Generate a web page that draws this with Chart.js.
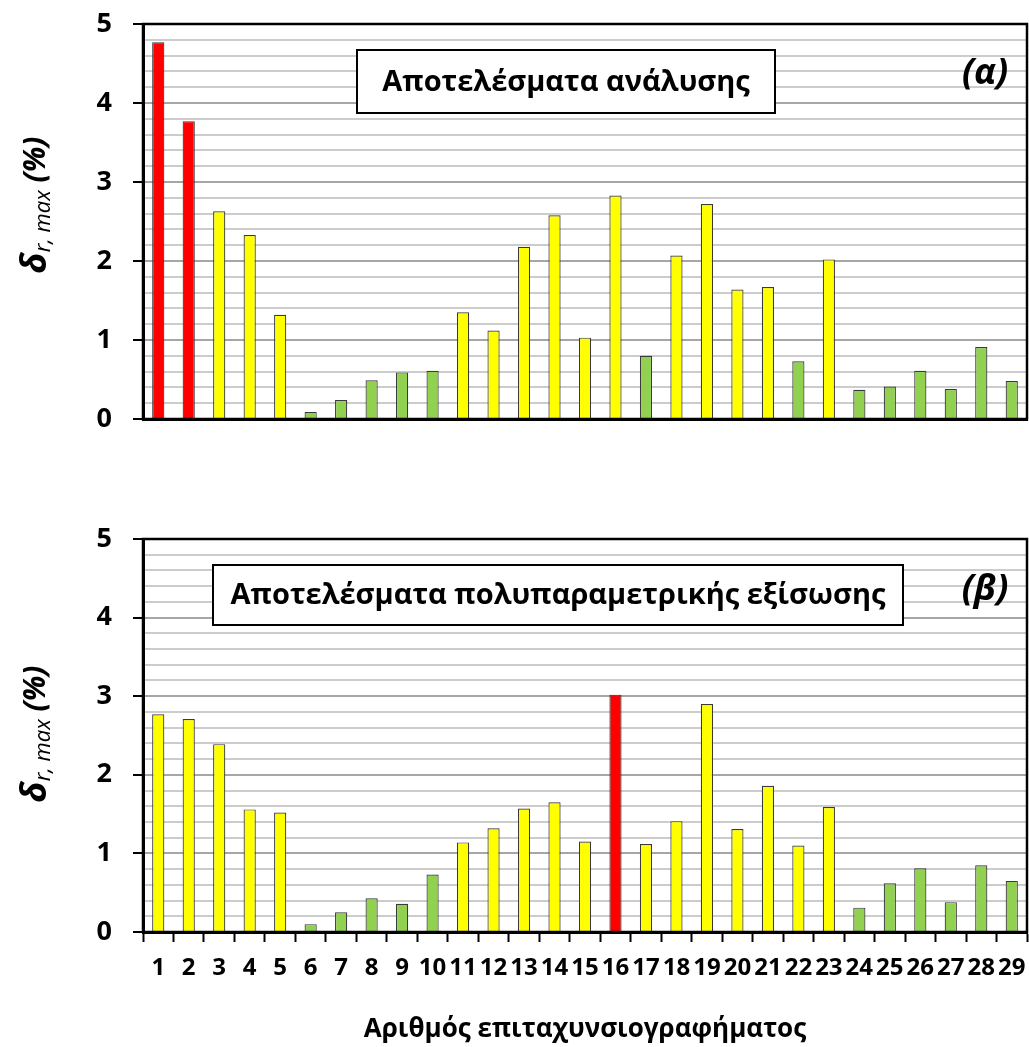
<!DOCTYPE html>
<html>
<head>
<meta charset="utf-8">
<script src="https://cdn.jsdelivr.net/npm/chart.js@4.4.1/dist/chart.umd.min.js"></script>
<style>
  html, body { margin: 0; padding: 0; background: #fff; }
  #wrap { position: relative; width: 1029px; height: 1047px; }
  .panel { position: absolute; left: 0; width: 1029px; }
  #panelA { top: 0; height: 450px; }
  #panelB { top: 480px; height: 567px; }
</style>
</head>
<body>
<div id="wrap">
  <div class="panel" id="panelA"><canvas id="chartA"></canvas></div>
  <div class="panel" id="panelB"><canvas id="chartB"></canvas></div>
</div>
<script>
const recordNumbers = [
  "1", "2", "3", "4", "5", "6", "7", "8", "9", "10",
  "11", "12", "13", "14", "15", "16", "17", "18", "19", "20",
  "21", "22", "23", "24", "25", "26", "27", "28", "29",
];
// (α) analysis results
const analysisValues = [
  4.77, 3.77, 2.63, 2.33, 1.32, 0.09, 0.24, 0.49, 0.59, 0.61,
  1.35, 1.12, 2.18, 2.58, 1.03, 2.83, 0.80, 2.07, 2.72, 1.64,
  1.67, 0.73, 2.02, 0.37, 0.41, 0.61, 0.38, 0.91, 0.48,
];
// (β) multi-parametric equation results
const equationValues = [
  2.77, 2.71, 2.39, 1.56, 1.52, 0.10, 0.25, 0.43, 0.36, 0.73,
  1.14, 1.32, 1.57, 1.65, 1.15, 3.02, 1.12, 1.41, 2.90, 1.31,
  1.86, 1.10, 1.59, 0.31, 0.62, 0.81, 0.38, 0.85, 0.65,
];
const yMin = 0;
const yMax = 5;
const yStep = 0.2;

const FONT = "'Open Sans', 'Noto Sans', sans-serif";

function barColor(ctx) {
  const v = ctx.raw;
  if (v > 3) return "#ff0000";
  if (v >= 1) return "#ffff00";
  return "#92d050";
}

function isWhole(v) {
  return Math.abs(v - Math.round(v)) < 1e-6;
}

// frame, note box, panel letter and y title
const notesPlugin = {
  id: "notes",
  afterDraw(chart, args, opts) {
    const ctx = chart.ctx;
    const a = chart.chartArea;
    ctx.save();

    ctx.strokeStyle = "#000";
    ctx.lineWidth = 2.5;
    ctx.strokeRect(a.left, a.top, a.right - a.left, a.bottom - a.top);

    // note box
    const [bx, by, bw, bh] = opts.box;
    ctx.fillStyle = "#fff";
    ctx.fillRect(bx, by, bw, bh);
    ctx.lineWidth = 2;
    ctx.strokeRect(bx, by, bw, bh);
    ctx.fillStyle = "#000";
    ctx.font = "bold " + opts.boxFont + "px " + FONT;
    ctx.textAlign = "center";
    ctx.textBaseline = "middle";
    ctx.fillText(opts.text, bx + bw / 2, by + bh / 2 + 1);

    // panel letter
    ctx.font = "italic bold 36px " + FONT;
    ctx.fillText(opts.letter, opts.letterPos[0], opts.letterPos[1]);

    // y title with subscript
    const parts = [
      { t: "δ", f: "italic bold 36px " + FONT, dy: 0 },
      { t: "r, max", f: "italic 22px " + FONT, dy: 8 },
      { t: " (%)", f: "italic bold 30px " + FONT, dy: 0 },
    ];
    let total = 0;
    parts.forEach((p) => {
      ctx.font = p.f;
      p.w = ctx.measureText(p.t).width;
      total += p.w;
    });
    ctx.translate(opts.titlePos[0], opts.titlePos[1]);
    ctx.rotate(-Math.PI / 2);
    ctx.textAlign = "left";
    ctx.textBaseline = "middle";
    let x = -total / 2;
    parts.forEach((p) => {
      ctx.font = p.f;
      ctx.fillText(p.t, x, p.dy);
      x += p.w;
    });
    ctx.restore();
  },
};

function makeOptions(showX, paddingTop, xHeight, notes) {
  return {
    responsive: true,
    maintainAspectRatio: false,
    animation: false,
    layout: { padding: { top: paddingTop, right: 2, left: 0, bottom: 0 } },
    scales: {
      x: {
        offset: true,
        grid: {
          display: showX,
          offset: true,
          drawOnChartArea: false,
          drawTicks: true,
          tickLength: 10,
          tickColor: "#000",
          tickWidth: 2,
        },
        border: { color: "#000", width: 3 },
        ticks: {
          display: showX,
          color: "#000",
          padding: 12,
          maxRotation: 0,
          autoSkip: false,
          font: { family: FONT, size: 24, weight: "bold" },
        },
        title: {
          display: showX,
          text: "Αριθμός επιταχυνσιογραφήματος",
          color: "#000",
          padding: { top: 0, bottom: 2 },
          font: { family: FONT, size: 26, weight: "bold" },
        },
        afterFit: (scale) => {
          scale.height = xHeight;
          scale.paddingLeft = 0;
          scale.paddingRight = 0;
        },
      },
      y: {
        min: yMin,
        max: yMax,
        grid: {
          color: (c) => (isWhole(c.tick.value) ? "#a6a6a6" : "#cccccc"),
          lineWidth: 2,
          tickLength: 10,
          tickWidth: 2,
          tickColor: (c) => (isWhole(c.tick.value) ? "#000" : "rgba(0,0,0,0)"),
        },
        border: { color: "#000", width: 3 },
        ticks: {
          stepSize: yStep,
          autoSkip: false,
          color: "#000",
          padding: 21,
          font: { family: FONT, size: 27, weight: "bold" },
          callback: (v) => (isWhole(v) ? String(Math.round(v)) : ""),
        },
        afterFit: (scale) => {
          scale.width = 143;
          scale.paddingTop = 0;
          scale.paddingBottom = 0;
        },
      },
    },
    plugins: {
      legend: { display: false },
      tooltip: { enabled: false },
      notes: notes,
    },
  };
}

function makeData(values) {
  return {
    labels: recordNumbers,
    datasets: [
      {
        data: values,
        backgroundColor: barColor,
        borderColor: "#3a3a3a",
        borderWidth: 1.2,
        borderSkipped: "bottom",
        barPercentage: 0.4,
        categoryPercentage: 1,
      },
    ],
  };
}

new Chart(document.getElementById("chartA"), {
  type: "bar",
  data: makeData(analysisValues),
  options: makeOptions(false, 24, 31, {
    box: [357, 50, 418, 63],
    boxFont: 29,
    text: "Αποτελέσματα ανάλυσης",
    letter: "(α)",
    letterPos: [985, 74],
    titlePos: [36, 205],
  }),
  plugins: [notesPlugin],
});

new Chart(document.getElementById("chartB"), {
  type: "bar",
  data: makeData(equationValues),
  options: makeOptions(true, 59, 115, {
    box: [213, 85, 690, 60],
    boxFont: 29,
    text: "Αποτελέσματα πολυπαραμετρικής εξίσωσης",
    letter: "(β)",
    letterPos: [985, 110],
    titlePos: [36, 254],
  }),
  plugins: [notesPlugin],
});
</script>
</body>
</html>
